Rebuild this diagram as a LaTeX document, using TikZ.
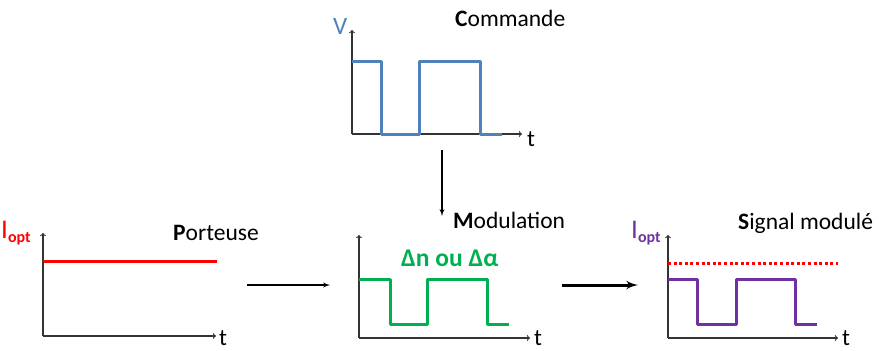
\documentclass[tikz,border=0pt]{standalone}
\usepackage{fontspec}
\setmainfont{Carlito}
\usepackage{xcolor}
\definecolor{cmdblue}{HTML}{4F81BD}
\definecolor{optred}{HTML}{FF0000}
\definecolor{modgreen}{HTML}{00B050}
\definecolor{sigpurple}{HTML}{7030A0}

\newcommand{\bigtxt}{\fontsize{23.5}{23.5}\selectfont}
\newcommand{\iopt}{{\fontsize{27}{27}\selectfont I}\raisebox{-4pt}{\bfseries\fontsize{16}{16}\selectfont opt}}

\begin{document}
\begin{tikzpicture}[x = 1pt, y = -1pt]
\usetikzlibrary{arrows}
\tikzset{
  axis/.style = {draw = black!80, line width = 1.1pt, ->, >=to},
  wave/.style = {line width = 3pt, line join = round},
  lbl/.style = {inner sep = 0pt, anchor = base west, font = \bigtxt}
}

\useasboundingbox (0, 0) rectangle (879, 351);

% Commande
\coordinate (o0) at (352, 134);
\coordinate (y0) at (352, 30);
\coordinate (x0) at (522, 134);
\path [axis] (o0) -- (y0);
\path [axis] (o0) -- (x0);
\draw [wave, cmdblue] (352, 61) -- (381, 61) -- (381, 134) -- (419, 134) -- (419, 61) -- (480, 61) -- (480, 134) -- (502, 134);
\node [lbl, text = cmdblue, font = \fontsize{25}{25}\selectfont] (v0) at (333, 34) {V};
\node [lbl] (t0) at (527, 146) {t};
\node [lbl] (cmd) at (455, 26) {\textbf{C}ommande};

% Porteuse
\coordinate (o1) at (43, 336);
\coordinate (y1) at (43, 233);
\coordinate (x1) at (216, 336);
\path [axis] (o1) -- (y1);
\path [axis] (o1) -- (x1);
\draw [wave, optred] (43, 261) -- (217, 261);
\node [lbl, text = optred] (i1) at (1, 238) {\iopt};
\node [lbl] (t1) at (219, 345) {t};
\node [lbl] (port) at (173, 240) {\textbf{P}orteuse};

% Modulation
\coordinate (o2) at (359, 338);
\coordinate (y2) at (359, 235);
\coordinate (x2) at (530, 338);
\path [axis] (o2) -- (y2);
\path [axis] (o2) -- (x2);
\draw [wave, modgreen] (359, 279) -- (390, 279) -- (390, 324) -- (427, 324) -- (427, 279) -- (487, 279) -- (487, 324) -- (509, 324);
\node [lbl, text = modgreen, font = \fontsize{25.5}{25.5}\selectfont\bfseries] (dn) at (401, 266) {Δn ou Δα};
\node [lbl] (t2) at (534, 345) {t};
\node [lbl] (mod) at (453, 228) {\textbf{M}odulation};

% Signal module
\coordinate (o3) at (668, 338);
\coordinate (y3) at (668, 235);
\coordinate (x3) at (838, 338);
\path [axis] (o3) -- (y3);
\path [axis] (o3) -- (x3);
\draw [line width = 3pt, optred, dash pattern = on 3pt off 2.6pt] (668, 263) -- (838, 263);
\draw [wave, sigpurple] (668, 279) -- (697, 279) -- (697, 324) -- (736, 324) -- (736, 279) -- (795, 279) -- (795, 324) -- (817, 324);
\node [lbl, text = sigpurple] (i3) at (631, 238) {\iopt};
\node [lbl] (t3) at (842, 345) {t};
\node [lbl] (sig) at (738, 229) {\textbf{S}ignal modulé};

% fleches
\coordinate (a0) at (442, 150);
\coordinate (a1) at (442, 216);
\path [draw, line width = 1.3pt, -latex'] (a0) -- (a1);
\coordinate (b0) at (247, 285);
\coordinate (b1) at (330, 285);
\path [draw, line width = 1.3pt, -latex'] (b0) -- (b1);
\coordinate (c0) at (562, 285);
\coordinate (c1) at (638, 285);
\path [draw, line width = 3pt, -latex'] (c0) -- (c1);

\end{tikzpicture}
\end{document}
